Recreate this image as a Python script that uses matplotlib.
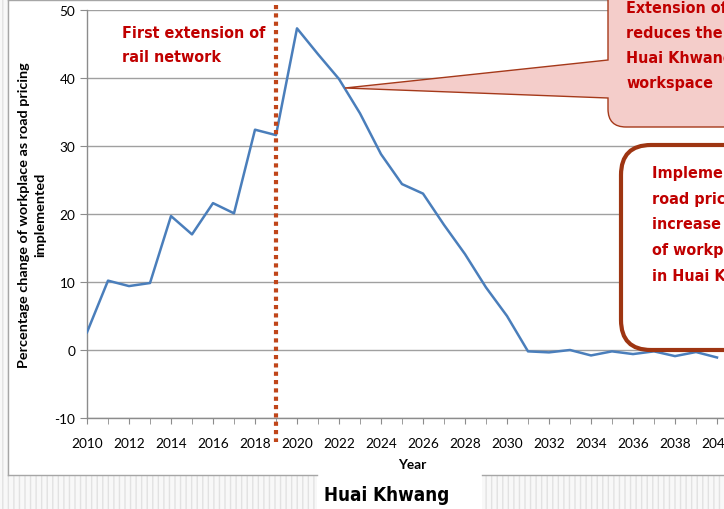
import matplotlib
matplotlib.use("Agg")
import matplotlib.pyplot as plt
from matplotlib import font_manager
from matplotlib.font_manager import FontProperties
from matplotlib.patches import Rectangle, FancyBboxPatch, PathPatch
from matplotlib.path import Path

# Workplace change under road pricing, Huai Khwang
years = list(range(2010, 2041))
pct_change = [2.6, 10.2, 9.4, 9.85, 19.7, 17.0, 21.6, 20.1, 32.4, 31.6,
              47.3, 43.5, 39.85, 34.8, 28.8, 24.4, 23.0, 18.4, 14.1, 9.2,
              5.0, -0.2, -0.35, 0.0, -0.8, -0.2, -0.6, -0.2, -0.9, -0.3, -1.1]
rail_year = 2019
y_ticks = [-10, 0, 10, 20, 30, 40, 50]
x_ticks = list(range(2010, 2042, 2))

plt.rcParams["axes.unicode_minus"] = False


def condensed_bold(size):
    """Pick an installed condensed/narrow bold face, else a plain bold sans."""
    best = None
    for f in font_manager.fontManager.ttflist:
        name = f.name.lower()
        fname = f.fname.lower()
        narrow = ("condensed" in name or "narrow" in name or "condensed" in fname
                  or "narrow" in fname or str(f.stretch) in ("condensed", "semi-condensed"))
        if "extra" in fname or "ultra" in fname or "semi" in fname:
            continue
        w = f.weight if isinstance(f.weight, int) else 400
        if narrow and 600 <= w <= 750 and "italic" not in fname and f.style == "normal":
            best = f.fname
            break
    if best:
        return FontProperties(fname=best, size=size)
    return FontProperties(family=["Liberation Sans", "DejaVu Sans"], weight="bold", size=size)


W, H = 724, 510
fig = plt.figure(figsize=(W / 100, H / 100), dpi=100)
fig.patch.set_facecolor("white")

body = ["Lato", "DejaVu Sans"]
red = "#C00000"

# background overlay in pixel coordinates
bg = fig.add_axes([0, 0, 1, 1], zorder=0)
bg.set_xlim(0, W)
bg.set_ylim(H, 0)
bg.axis("off")
bg.add_patch(Rectangle((0, 476), W, 40, facecolor="#F8F8F8", edgecolor="#E2E2E2",
                       hatch="|||", linewidth=0))
bg.add_patch(Rectangle((0, 0), 8, H, facecolor="#F8F8F8", edgecolor="#E2E2E2",
                       hatch="|||", linewidth=0))
bg.add_patch(Rectangle((317, 476), 165, 40, facecolor="white", edgecolor="none"))
frame = "#A6A6A6"
bg.plot([8, 8], [0.5, 476], color=frame, lw=1)
bg.plot([8, W], [0.5, 0.5], color=frame, lw=1)
bg.plot([8, 317], [476, 476], color=frame, lw=1)
bg.plot([482, W], [476, 476], color=frame, lw=1)

# main plot area
x0 = 87
px_per_year = 21
xmax = 2041
ax = fig.add_axes([x0 / W, (H - 419) / H, (xmax - 2010) * px_per_year / W, 408 / H], zorder=1)
ax.patch.set_alpha(0)
ax.plot(years, pct_change, color="#4A7EBB", lw=1.8, zorder=3)
ax.set_xlim(2010, xmax)
ax.set_ylim(-10, 50)
ax.set_yticks(y_ticks)
ax.set_xticks(x_ticks)
ax.set_xticks(years, minor=True)
ax.grid(axis="y", color="#A0A0A0", lw=1)
ax.set_axisbelow(True)
for s in ("top", "right"):
    ax.spines[s].set_visible(False)
for s in ("left", "bottom"):
    ax.spines[s].set_color("#8C8C8C")
    ax.spines[s].set_linewidth(1)
ax.tick_params(axis="both", which="both", color="#8C8C8C", direction="out")
ax.tick_params(axis="x", which="both", length=4)
ax.tick_params(axis="y", length=5)
ax.tick_params(axis="x", which="major", pad=10)
for lab in ax.get_xticklabels() + ax.get_yticklabels():
    lab.set_family(body)
    lab.set_fontsize(9.8)
ax.set_xlabel("Year", family=body, fontweight="bold", fontsize=9.8, labelpad=6)
ax.set_ylabel("Percentage change of workplace as road pricing\nimplemented",
              family=body, fontweight="bold", fontsize=10.4, labelpad=6, linespacing=1.4)

# first rail extension marker
ax.plot([rail_year, rail_year], [50.7, -13.5], color="#C0461A", lw=3,
        linestyle=(0, (1, 1)), clip_on=False, zorder=4)
ax.text(2011.65, 44.9, "First extension of\nrail network", color=red,
        fontproperties=condensed_bold(11.5), va="center", ha="left", linespacing=1.72)

# overlay for callouts
ov = fig.add_axes([0, 0, 1, 1], zorder=5)
ov.set_xlim(0, W)
ov.set_ylim(H, 0)
ov.axis("off")

r = 18
bx, bb = 608, 128
verts = [(bx, -30), (bx, 61), (345, 89), (bx, 99), (bx, bb - r), (bx, bb), (bx + r, bb),
         (W + 40, bb), (W + 40, -30), (bx, -30)]
codes = [Path.MOVETO, Path.LINETO, Path.LINETO, Path.LINETO, Path.LINETO,
         Path.CURVE3, Path.CURVE3, Path.LINETO, Path.LINETO, Path.CLOSEPOLY]
ov.add_patch(PathPatch(Path(verts, codes), facecolor="#F4CDCA", edgecolor="#A5391A",
                       lw=1.0, clip_on=False))
ov.text(626, 46, "Extension of rail network\nreduces the attraction of\nHuai Khwang as\nworkspace",
        color=red, fontproperties=condensed_bold(11.5), va="center", ha="left",
        linespacing=1.85, clip_on=False)

ov.add_patch(FancyBboxPatch((621, 146), 200, 205,
                            boxstyle="round,pad=0,rounding_size=30",
                            facecolor="white", edgecolor="#9E3512", lw=3, clip_on=False))
ov.text(652, 225, "Implementation of\nroad pricing will\nincrease the number\nof workplaces\nin Huai Khwang",
        color=red, fontproperties=condensed_bold(11.5), va="center", ha="left",
        linespacing=1.89, clip_on=False)

fig.text(387 / W, 1 - 496 / H, "Huai Khwang", fontproperties=condensed_bold(13.5),
         ha="center", va="center", color="black")

fig.savefig("out.png", dpi=100)
